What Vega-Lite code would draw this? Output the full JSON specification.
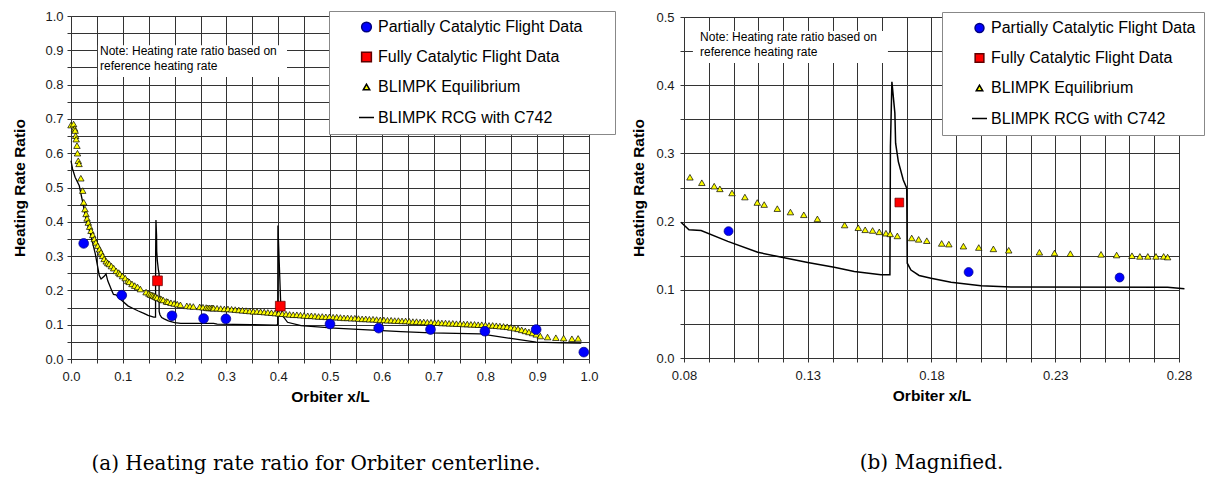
{
  "$schema": "https://vega.github.io/schema/vega-lite/v6.json",
  "background": "white",
  "padding": {"left": 12, "top": 10, "right": 5, "bottom": 2},
  "bounds": "flush",
  "spacing": 95,
  "center": true,
  "resolve": {
    "scale": {"fill": "independent", "stroke": "independent", "shape": "independent", "size": "independent"},
    "legend": {"fill": "independent", "stroke": "independent", "shape": "independent", "size": "independent"}
  },
  "config": {
    "view": {"stroke": null},
    "font": "Liberation Sans",
    "axis": {"labelFont": "Liberation Sans", "labelFontSize": 13, "labelColor": "#1a1a1a", "titleFont": "Liberation Sans", "titleFontSize": 15.5, "titleFontWeight": "bold", "titleColor": "#000", "grid": true, "gridColor": "#333", "gridOpacity": 1, "gridWidth": 1, "domainColor": "#333", "tickColor": "#333", "tickSize": 4, "labelFlush": false, "labelOverlap": false},
    "legend": {"orient": "none", "legendX": 258, "legendY": -5, "fillColor": "white", "strokeColor": "#888", "padding": 8, "rowPadding": 14, "symbolOffset": 21, "labelOffset": 3, "labelFont": "Liberation Sans", "labelFontSize": 16, "labelColor": "#000", "labelLimit": 400},
    "title": {"font": "DejaVu Serif", "fontSize": 20, "fontWeight": "normal", "color": "#000", "orient": "bottom", "anchor": "middle", "frame": "group", "offset": 49}
  },
  "datasets": {
    "noteBoxL": [{"x": 0.052, "x2": 0.417, "y": 0.915, "y2": 0.822}],
    "noteTextL": [{"x": 0.056, "y": 0.898, "t": "Note: Heating rate ratio based on"}, {"x": 0.056, "y": 0.854, "t": "reference heating rate"}],
    "noteBoxR": [{"x": 0.0836, "x2": 0.1624, "y": 0.4795, "y2": 0.4326}],
    "noteTextR": [{"x": 0.0865, "y": 0.4707, "t": "Note: Heating rate ratio based on"}, {"x": 0.0865, "y": 0.4487, "t": "reference heating rate"}],
    "rcg": [{"x":0.000,"y":0.578},{"x":0.003,"y":0.554},{"x":0.008,"y":0.530},{"x":0.016,"y":0.505},{"x":0.0226,"y":0.457},{"x":0.029,"y":0.408},{"x":0.0386,"y":0.359},{"x":0.047,"y":0.306},{"x":0.0546,"y":0.243},{"x":0.058,"y":0.233},{"x":0.064,"y":0.241},{"x":0.0676,"y":0.248},{"x":0.071,"y":0.228},{"x":0.0788,"y":0.199},{"x":0.082,"y":0.188},{"x":0.0869,"y":0.187},{"x":0.0977,"y":0.171},{"x":0.1098,"y":0.155},{"x":0.119,"y":0.148},{"x":0.130,"y":0.140},{"x":0.1407,"y":0.133},{"x":0.1488,"y":0.127},{"x":0.1596,"y":0.122},{"x":0.1632,"y":0.122},{"x":0.1634,"y":0.310},{"x":0.1640,"y":0.405},{"x":0.1652,"y":0.359},{"x":0.1655,"y":0.315},{"x":0.1666,"y":0.288},{"x":0.1686,"y":0.261},{"x":0.1700,"y":0.249},{"x":0.1702,"y":0.139},{"x":0.1717,"y":0.129},{"x":0.1750,"y":0.121},{"x":0.1798,"y":0.117},{"x":0.1879,"y":0.111},{"x":0.2000,"y":0.106},{"x":0.2121,"y":0.104},{"x":0.2754,"y":0.1037},{"x":0.2822,"y":0.1016},{"x":0.347,"y":0.100},{"x":0.396,"y":0.099},{"x":0.399,"y":0.100},{"x":0.3995,"y":0.389},{"x":0.402,"y":0.282},{"x":0.405,"y":0.155},{"x":0.4087,"y":0.126},{"x":0.418,"y":0.107},{"x":0.444,"y":0.097},{"x":0.508,"y":0.090},{"x":0.573,"y":0.085},{"x":0.637,"y":0.080},{"x":0.695,"y":0.076},{"x":0.791,"y":0.073},{"x":0.849,"y":0.060},{"x":0.898,"y":0.049},{"x":0.952,"y":0.047},{"x":0.985,"y":0.046}],
    "pts": [
      {"s":"BLIMPK Equilibrium","x":0.000,"y":0.682},{"s":"BLIMPK Equilibrium","x":0.005,"y":0.685},{"s":"BLIMPK Equilibrium","x":0.007,"y":0.672},{"s":"BLIMPK Equilibrium","x":0.008,"y":0.666},{"s":"BLIMPK Equilibrium","x":0.009,"y":0.651},{"s":"BLIMPK Equilibrium","x":0.010,"y":0.641},{"s":"BLIMPK Equilibrium","x":0.0115,"y":0.622},{"s":"BLIMPK Equilibrium","x":0.0125,"y":0.600},{"s":"BLIMPK Equilibrium","x":0.014,"y":0.578},{"s":"BLIMPK Equilibrium","x":0.0155,"y":0.569},{"s":"BLIMPK Equilibrium","x":0.019,"y":0.527},{"s":"BLIMPK Equilibrium","x":0.0226,"y":0.491},{"s":"BLIMPK Equilibrium","x":0.0245,"y":0.457},{"s":"BLIMPK Equilibrium","x":0.027,"y":0.437},{"s":"BLIMPK Equilibrium","x":0.029,"y":0.423},{"s":"BLIMPK Equilibrium","x":0.031,"y":0.410},{"s":"BLIMPK Equilibrium","x":0.0334,"y":0.398},{"s":"BLIMPK Equilibrium","x":0.036,"y":0.386},{"s":"BLIMPK Equilibrium","x":0.0386,"y":0.374},{"s":"BLIMPK Equilibrium","x":0.042,"y":0.362},{"s":"BLIMPK Equilibrium","x":0.045,"y":0.350},{"s":"BLIMPK Equilibrium","x":0.048,"y":0.340},{"s":"BLIMPK Equilibrium","x":0.0515,"y":0.330},{"s":"BLIMPK Equilibrium","x":0.055,"y":0.320},{"s":"BLIMPK Equilibrium","x":0.058,"y":0.311},{"s":"BLIMPK Equilibrium","x":0.061,"y":0.301},{"s":"BLIMPK Equilibrium","x":0.064,"y":0.292},{"s":"BLIMPK Equilibrium","x":0.068,"y":0.285},{"s":"BLIMPK Equilibrium","x":0.071,"y":0.280},{"s":"BLIMPK Equilibrium","x":0.074,"y":0.277},{"s":"BLIMPK Equilibrium","x":0.078,"y":0.271},
      {"s":"BLIMPK Equilibrium","x":0.0824,"y":0.265},{"s":"BLIMPK Equilibrium","x":0.0872,"y":0.257},{"s":"BLIMPK Equilibrium","x":0.0922,"y":0.252},{"s":"BLIMPK Equilibrium","x":0.0945,"y":0.248},{"s":"BLIMPK Equilibrium","x":0.0994,"y":0.242},{"s":"BLIMPK Equilibrium","x":0.1046,"y":0.236},{"s":"BLIMPK Equilibrium","x":0.1096,"y":0.228},{"s":"BLIMPK Equilibrium","x":0.1124,"y":0.225},{"s":"BLIMPK Equilibrium","x":0.1177,"y":0.219},{"s":"BLIMPK Equilibrium","x":0.1230,"y":0.214},{"s":"BLIMPK Equilibrium","x":0.1284,"y":0.210},{"s":"BLIMPK Equilibrium","x":0.1339,"y":0.204},{"s":"BLIMPK Equilibrium","x":0.1449,"y":0.195},{"s":"BLIMPK Equilibrium","x":0.1504,"y":0.191},{"s":"BLIMPK Equilibrium","x":0.1532,"y":0.188},{"s":"BLIMPK Equilibrium","x":0.1562,"y":0.187},{"s":"BLIMPK Equilibrium","x":0.1589,"y":0.185},{"s":"BLIMPK Equilibrium","x":0.1616,"y":0.183},{"s":"BLIMPK Equilibrium","x":0.1633,"y":0.182},{"s":"BLIMPK Equilibrium","x":0.1662,"y":0.179},{"s":"BLIMPK Equilibrium","x":0.1720,"y":0.176},{"s":"BLIMPK Equilibrium","x":0.1748,"y":0.174},{"s":"BLIMPK Equilibrium","x":0.1781,"y":0.172},{"s":"BLIMPK Equilibrium","x":0.1841,"y":0.168},{"s":"BLIMPK Equilibrium","x":0.1870,"y":0.167},{"s":"BLIMPK Equilibrium","x":0.1929,"y":0.164},{"s":"BLIMPK Equilibrium","x":0.1991,"y":0.162},{"s":"BLIMPK Equilibrium","x":0.2050,"y":0.160},{"s":"BLIMPK Equilibrium","x":0.2112,"y":0.158},{"s":"BLIMPK Equilibrium","x":0.2236,"y":0.155},{"s":"BLIMPK Equilibrium","x":0.2297,"y":0.154},{"s":"BLIMPK Equilibrium","x":0.2361,"y":0.153},{"s":"BLIMPK Equilibrium","x":0.2485,"y":0.152},{"s":"BLIMPK Equilibrium","x":0.2548,"y":0.151},{"s":"BLIMPK Equilibrium","x":0.2610,"y":0.150},{"s":"BLIMPK Equilibrium","x":0.2642,"y":0.149},{"s":"BLIMPK Equilibrium","x":0.2674,"y":0.149},{"s":"BLIMPK Equilibrium","x":0.2707,"y":0.149},{"s":"BLIMPK Equilibrium","x":0.2738,"y":0.149},{"s":"BLIMPK Equilibrium","x":0.2754,"y":0.148},
      {"s":"BLIMPK Equilibrium","x":0.282,"y":0.148},{"s":"BLIMPK Equilibrium","x":0.289,"y":0.147},{"s":"BLIMPK Equilibrium","x":0.296,"y":0.146},{"s":"BLIMPK Equilibrium","x":0.303,"y":0.146},{"s":"BLIMPK Equilibrium","x":0.310,"y":0.145},{"s":"BLIMPK Equilibrium","x":0.317,"y":0.144},{"s":"BLIMPK Equilibrium","x":0.324,"y":0.143},{"s":"BLIMPK Equilibrium","x":0.331,"y":0.142},{"s":"BLIMPK Equilibrium","x":0.338,"y":0.141},{"s":"BLIMPK Equilibrium","x":0.345,"y":0.140},{"s":"BLIMPK Equilibrium","x":0.352,"y":0.139},{"s":"BLIMPK Equilibrium","x":0.359,"y":0.139},{"s":"BLIMPK Equilibrium","x":0.366,"y":0.138},{"s":"BLIMPK Equilibrium","x":0.373,"y":0.137},{"s":"BLIMPK Equilibrium","x":0.380,"y":0.136},{"s":"BLIMPK Equilibrium","x":0.387,"y":0.135},{"s":"BLIMPK Equilibrium","x":0.394,"y":0.134},{"s":"BLIMPK Equilibrium","x":0.401,"y":0.133},{"s":"BLIMPK Equilibrium","x":0.408,"y":0.132},{"s":"BLIMPK Equilibrium","x":0.415,"y":0.131},{"s":"BLIMPK Equilibrium","x":0.422,"y":0.130},{"s":"BLIMPK Equilibrium","x":0.429,"y":0.129},{"s":"BLIMPK Equilibrium","x":0.436,"y":0.129},{"s":"BLIMPK Equilibrium","x":0.443,"y":0.128},{"s":"BLIMPK Equilibrium","x":0.450,"y":0.127},{"s":"BLIMPK Equilibrium","x":0.457,"y":0.126},{"s":"BLIMPK Equilibrium","x":0.464,"y":0.126},{"s":"BLIMPK Equilibrium","x":0.471,"y":0.125},{"s":"BLIMPK Equilibrium","x":0.478,"y":0.124},{"s":"BLIMPK Equilibrium","x":0.485,"y":0.124},{"s":"BLIMPK Equilibrium","x":0.492,"y":0.123},{"s":"BLIMPK Equilibrium","x":0.499,"y":0.123},{"s":"BLIMPK Equilibrium","x":0.506,"y":0.122},{"s":"BLIMPK Equilibrium","x":0.513,"y":0.122},{"s":"BLIMPK Equilibrium","x":0.520,"y":0.121},{"s":"BLIMPK Equilibrium","x":0.527,"y":0.120},{"s":"BLIMPK Equilibrium","x":0.534,"y":0.120},{"s":"BLIMPK Equilibrium","x":0.541,"y":0.119},{"s":"BLIMPK Equilibrium","x":0.548,"y":0.119},{"s":"BLIMPK Equilibrium","x":0.555,"y":0.118},{"s":"BLIMPK Equilibrium","x":0.562,"y":0.117},{"s":"BLIMPK Equilibrium","x":0.569,"y":0.117},{"s":"BLIMPK Equilibrium","x":0.576,"y":0.116},{"s":"BLIMPK Equilibrium","x":0.583,"y":0.116},{"s":"BLIMPK Equilibrium","x":0.590,"y":0.115},{"s":"BLIMPK Equilibrium","x":0.597,"y":0.114},{"s":"BLIMPK Equilibrium","x":0.604,"y":0.114},{"s":"BLIMPK Equilibrium","x":0.611,"y":0.113},{"s":"BLIMPK Equilibrium","x":0.618,"y":0.113},{"s":"BLIMPK Equilibrium","x":0.625,"y":0.112},{"s":"BLIMPK Equilibrium","x":0.632,"y":0.112},{"s":"BLIMPK Equilibrium","x":0.639,"y":0.111},{"s":"BLIMPK Equilibrium","x":0.646,"y":0.111},{"s":"BLIMPK Equilibrium","x":0.653,"y":0.110},{"s":"BLIMPK Equilibrium","x":0.660,"y":0.109},{"s":"BLIMPK Equilibrium","x":0.667,"y":0.109},{"s":"BLIMPK Equilibrium","x":0.674,"y":0.108},{"s":"BLIMPK Equilibrium","x":0.681,"y":0.108},{"s":"BLIMPK Equilibrium","x":0.688,"y":0.107},{"s":"BLIMPK Equilibrium","x":0.695,"y":0.107},{"s":"BLIMPK Equilibrium","x":0.702,"y":0.106},{"s":"BLIMPK Equilibrium","x":0.709,"y":0.106},{"s":"BLIMPK Equilibrium","x":0.716,"y":0.105},{"s":"BLIMPK Equilibrium","x":0.723,"y":0.105},{"s":"BLIMPK Equilibrium","x":0.730,"y":0.104},{"s":"BLIMPK Equilibrium","x":0.737,"y":0.104},{"s":"BLIMPK Equilibrium","x":0.744,"y":0.103},{"s":"BLIMPK Equilibrium","x":0.751,"y":0.103},{"s":"BLIMPK Equilibrium","x":0.758,"y":0.102},{"s":"BLIMPK Equilibrium","x":0.765,"y":0.102},{"s":"BLIMPK Equilibrium","x":0.772,"y":0.101},{"s":"BLIMPK Equilibrium","x":0.779,"y":0.101},{"s":"BLIMPK Equilibrium","x":0.786,"y":0.100},{"s":"BLIMPK Equilibrium","x":0.793,"y":0.100},{"s":"BLIMPK Equilibrium","x":0.800,"y":0.099},{"s":"BLIMPK Equilibrium","x":0.807,"y":0.098},{"s":"BLIMPK Equilibrium","x":0.814,"y":0.098},{"s":"BLIMPK Equilibrium","x":0.821,"y":0.097},{"s":"BLIMPK Equilibrium","x":0.828,"y":0.096},{"s":"BLIMPK Equilibrium","x":0.835,"y":0.095},{"s":"BLIMPK Equilibrium","x":0.842,"y":0.094},{"s":"BLIMPK Equilibrium","x":0.849,"y":0.092},{"s":"BLIMPK Equilibrium","x":0.856,"y":0.090},{"s":"BLIMPK Equilibrium","x":0.863,"y":0.088},{"s":"BLIMPK Equilibrium","x":0.870,"y":0.085},{"s":"BLIMPK Equilibrium","x":0.877,"y":0.082},{"s":"BLIMPK Equilibrium","x":0.884,"y":0.079},{"s":"BLIMPK Equilibrium","x":0.891,"y":0.076},{"s":"BLIMPK Equilibrium","x":0.898,"y":0.072},{"s":"BLIMPK Equilibrium","x":0.906,"y":0.067},{"s":"BLIMPK Equilibrium","x":0.920,"y":0.064},{"s":"BLIMPK Equilibrium","x":0.936,"y":0.062},{"s":"BLIMPK Equilibrium","x":0.951,"y":0.061},{"s":"BLIMPK Equilibrium","x":0.967,"y":0.059},{"s":"BLIMPK Equilibrium","x":0.979,"y":0.060},
      {"s":"Partially Catalytic Flight Data","x":0.0245,"y":0.337},{"s":"Partially Catalytic Flight Data","x":0.098,"y":0.186},{"s":"Partially Catalytic Flight Data","x":0.195,"y":0.126},{"s":"Partially Catalytic Flight Data","x":0.256,"y":0.118},{"s":"Partially Catalytic Flight Data","x":0.299,"y":0.117},{"s":"Partially Catalytic Flight Data","x":0.500,"y":0.102},{"s":"Partially Catalytic Flight Data","x":0.594,"y":0.090},{"s":"Partially Catalytic Flight Data","x":0.694,"y":0.086},{"s":"Partially Catalytic Flight Data","x":0.799,"y":0.081},{"s":"Partially Catalytic Flight Data","x":0.898,"y":0.086},{"s":"Partially Catalytic Flight Data","x":0.990,"y":0.020},
      {"s":"Fully Catalytic Flight Data","x":0.167,"y":0.228},{"s":"Fully Catalytic Flight Data","x":0.404,"y":0.154}
    ]
  },
  "hconcat": [
    {
      "width": 518,
      "height": 343,
      "title": {"text": "(a) Heating rate ratio for Orbiter centerline.", "dx": -14},
      "encoding": {
        "x": {"field": "x", "type": "quantitative", "title": "Orbiter x/L", "scale": {"domain": [0, 1], "nice": false, "zero": false}, "axis": {"values": [0,0.05,0.1,0.15,0.2,0.25,0.3,0.35,0.4,0.45,0.5,0.55,0.6,0.65,0.7,0.75,0.8,0.85,0.9,0.95,1], "labelExpr": "round(datum.value*20) % 2 == 0 ? format(datum.value, '.1f') : ''", "labelPadding": 7, "titlePadding": 6}},
        "y": {"field": "y", "type": "quantitative", "title": "Heating Rate Ratio", "scale": {"domain": [0, 1], "nice": false, "zero": false}, "axis": {"values": [0,0.05,0.1,0.15,0.2,0.25,0.3,0.35,0.4,0.45,0.5,0.55,0.6,0.65,0.7,0.75,0.8,0.85,0.9,0.95,1], "labelExpr": "round(datum.value*20) % 2 == 0 ? format(datum.value, '.1f') : ''", "labelPadding": 4, "titlePadding": 17}}
      },
      "layer": [
        {"data": {"name": "noteBoxL"}, "mark": {"type": "rect", "fill": "white"}, "encoding": {"x2": {"field": "x2"}, "y2": {"field": "y2"}}},
        {"data": {"name": "noteTextL"}, "mark": {"type": "text", "align": "left", "baseline": "middle", "font": "Liberation Sans", "fontSize": 12, "color": "#000"}, "encoding": {"text": {"field": "t"}}},
        {"data": {"name": "rcg"}, "mark": {"type": "line", "color": "#000", "strokeWidth": 1.3}, "encoding": {}},
        {"data": {"name": "pts"}, "mark": {"type": "point", "filled": true, "opacity": 1, "strokeWidth": 0.7},
         "encoding": {
           "fill": {"field": "s", "type": "nominal", "title": null, "scale": {"domain": ["Partially Catalytic Flight Data","Fully Catalytic Flight Data","BLIMPK Equilibrium","BLIMPK RCG with C742"], "range": ["#0000ff","#ff0000","#ffff00","#000000"]}, "legend": {"labelExpr": "datum.label + '\u2800\u2800'", "encode": {"symbols": {"update": {"strokeWidth": {"signal": "datum.value === 'BLIMPK RCG with C742' ? 1.8 : 0.7"}}}}}},
           "stroke": {"field": "s", "type": "nominal", "title": null, "scale": {"domain": ["Partially Catalytic Flight Data","Fully Catalytic Flight Data","BLIMPK Equilibrium","BLIMPK RCG with C742"], "range": ["#000080","#600000","#000000","#000000"]}, "legend": {"labelExpr": "datum.label + '\u2800\u2800'"}},
           "shape": {"field": "s", "type": "nominal", "title": null, "scale": {"domain": ["Partially Catalytic Flight Data","Fully Catalytic Flight Data","BLIMPK Equilibrium","BLIMPK RCG with C742"], "range": ["circle","square","triangle-up","stroke"]}, "legend": {"labelExpr": "datum.label + '\u2800\u2800'"}},
           "size": {"field": "s", "type": "nominal", "title": null, "scale": {"type": "ordinal", "domain": ["Partially Catalytic Flight Data","Fully Catalytic Flight Data","BLIMPK Equilibrium","BLIMPK RCG with C742"], "range": [95,95,42,225]}, "legend": {"labelExpr": "datum.label + '\u2800\u2800'"}}
         }}
      ]
    },
    {
      "width": 495,
      "height": 341,
      "title": {"text": "(b) Magnified."},
      "encoding": {
        "x": {"field": "x", "type": "quantitative", "title": "Orbiter x/L", "scale": {"domain": [0.08, 0.28], "nice": false, "zero": false}, "axis": {"values": [0.08,0.09,0.1,0.11,0.12,0.13,0.14,0.15,0.16,0.17,0.18,0.19,0.2,0.21,0.22,0.23,0.24,0.25,0.26,0.27,0.28], "labelExpr": "round(datum.value*100) % 5 == 3 ? format(datum.value, '.2f') : ''", "labelPadding": 7, "titlePadding": 6}},
        "y": {"field": "y", "type": "quantitative", "title": "Heating Rate Ratio", "scale": {"domain": [0, 0.5], "nice": false, "zero": false}, "axis": {"values": [0,0.05,0.1,0.15,0.2,0.25,0.3,0.35,0.4,0.45,0.5], "labelExpr": "round(datum.value*20) % 2 == 0 ? format(datum.value, '.1f') : ''", "labelPadding": 6, "titlePadding": 9}}
      },
      "layer": [
        {"data": {"name": "noteBoxR"}, "mark": {"type": "rect", "fill": "white"}, "encoding": {"x2": {"field": "x2"}, "y2": {"field": "y2"}}},
        {"data": {"name": "noteTextR"}, "mark": {"type": "text", "align": "left", "baseline": "middle", "font": "Liberation Sans", "fontSize": 12, "color": "#000"}, "encoding": {"text": {"field": "t"}}},
        {"data": {"name": "rcg"}, "transform": [{"filter": "datum.x >= 0.078 && datum.x <= 0.283"}], "mark": {"type": "line", "color": "#000", "strokeWidth": 1.5}, "encoding": {}},
        {"data": {"name": "pts"}, "transform": [{"filter": "datum.x >= 0.0799 && datum.x <= 0.2801"}], "mark": {"type": "point", "filled": true, "opacity": 1, "strokeWidth": 0.7},
         "encoding": {
           "fill": {"field": "s", "type": "nominal", "title": null, "scale": {"domain": ["Partially Catalytic Flight Data","Fully Catalytic Flight Data","BLIMPK Equilibrium","BLIMPK RCG with C742"], "range": ["#0000ff","#ff0000","#ffff00","#000000"]}, "legend": {"encode": {"symbols": {"update": {"strokeWidth": {"signal": "datum.value === 'BLIMPK RCG with C742' ? 1.8 : 0.7"}}}}}},
           "stroke": {"field": "s", "type": "nominal", "title": null, "scale": {"domain": ["Partially Catalytic Flight Data","Fully Catalytic Flight Data","BLIMPK Equilibrium","BLIMPK RCG with C742"], "range": ["#000080","#600000","#000000","#000000"]}},
           "shape": {"field": "s", "type": "nominal", "title": null, "scale": {"domain": ["Partially Catalytic Flight Data","Fully Catalytic Flight Data","BLIMPK Equilibrium","BLIMPK RCG with C742"], "range": ["circle","square","triangle-up","stroke"]}},
           "size": {"field": "s", "type": "nominal", "title": null, "scale": {"type": "ordinal", "domain": ["Partially Catalytic Flight Data","Fully Catalytic Flight Data","BLIMPK Equilibrium","BLIMPK RCG with C742"], "range": [80,76,42,225]}}
         }}
      ]
    }
  ]
}
